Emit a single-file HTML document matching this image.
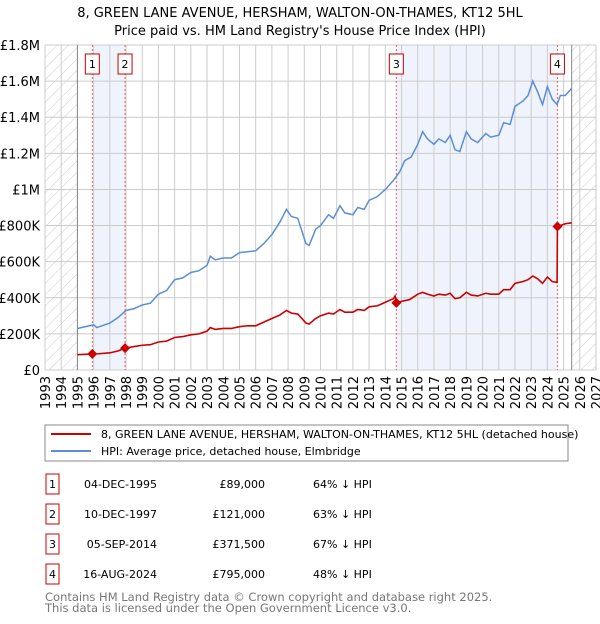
<!DOCTYPE html>
<html><head><meta charset="utf-8"><style>
body{margin:0;background:#fff;font-family:"DejaVu Sans","Liberation Sans",sans-serif;}
svg text{font-family:"DejaVu Sans","Liberation Sans",sans-serif;}
</style></head><body>
<svg id="c" width="600" height="620" xmlns="http://www.w3.org/2000/svg">
<defs><pattern id="hatch" width="8" height="8" patternUnits="userSpaceOnUse" patternTransform="rotate(45)"><line x1="0" y1="0" x2="0" y2="8" stroke="#ccc" stroke-width="1"/></pattern></defs>
<text x="300" y="17" text-anchor="middle" font-size="13">8, GREEN LANE AVENUE, HERSHAM, WALTON-ON-THAMES, KT12 5HL</text>
<text x="300" y="35" text-anchor="middle" font-size="13">Price paid vs. HM Land Registry's House Price Index (HPI)</text>
<g id="plot"></g>
<rect x="45" y="425" width="523" height="36" fill="#fff" stroke="#888"/>
<line x1="51" y1="434" x2="91" y2="434" stroke="#cc0000" stroke-width="2"/>
<text x="101" y="438" font-size="11">8, GREEN LANE AVENUE, HERSHAM, WALTON-ON-THAMES, KT12 5HL (detached house)</text>
<line x1="51" y1="451" x2="91" y2="451" stroke="#5b8ed6" stroke-width="2"/>
<text x="101" y="455" font-size="11">HPI: Average price, detached house, Elmbridge</text>
<g id="table" font-size="11"></g>
<text x="45" y="601" font-size="11.5" fill="#777">Contains HM Land Registry data © Crown copyright and database right 2025.</text>
<text x="45" y="612" font-size="11.5" fill="#777">This data is licensed under the Open Government Licence v3.0.</text>
</svg>
<script>
const hpiT=[1995.0,1995.5,1996.0,1996.2,1997.0,1997.5,1998.0,1998.5,1999.0,1999.5,2000.0,2000.5,2001.0,2001.5,2002.0,2002.5,2003.0,2003.2,2003.5,2004.0,2004.5,2005.0,2005.5,2006.0,2006.5,2007.0,2007.5,2007.9,2008.2,2008.6,2009.1,2009.3,2009.7,2010.0,2010.5,2010.8,2011.2,2011.5,2012.0,2012.3,2012.7,2013.0,2013.5,2014.0,2014.5,2014.9,2015.2,2015.6,2016.0,2016.3,2016.6,2017.0,2017.3,2017.7,2018.0,2018.3,2018.6,2019.0,2019.3,2019.7,2020.2,2020.5,2021.0,2021.3,2021.7,2022.0,2022.5,2022.8,2023.1,2023.4,2023.7,2024.0,2024.3,2024.6,2024.8,2025.1,2025.5];
const hpiV=[230,240,250,235,260,290,330,340,360,370,420,440,500,510,540,550,580,630,610,620,620,650,655,660,700,750,820,890,850,840,700,690,780,800,860,840,910,870,860,900,890,940,960,1000,1050,1100,1160,1180,1250,1320,1280,1250,1280,1260,1300,1220,1210,1320,1280,1260,1310,1290,1300,1370,1360,1460,1490,1520,1600,1540,1470,1570,1500,1470,1520,1520,1560];
const priceT=[1995.0,1995.5,1995.92,1996.3,1997.0,1997.5,1997.94,1998.5,1999.0,1999.5,2000.0,2000.5,2001.0,2001.5,2002.0,2002.5,2003.0,2003.2,2003.5,2004.0,2004.5,2005.0,2005.5,2006.0,2006.5,2007.0,2007.5,2007.9,2008.2,2008.6,2009.1,2009.3,2009.7,2010.0,2010.5,2010.8,2011.2,2011.5,2012.0,2012.3,2012.7,2013.0,2013.5,2014.0,2014.5,2014.6,2014.68,2015.0,2015.5,2016.0,2016.3,2016.6,2017.0,2017.3,2017.7,2018.0,2018.3,2018.6,2019.0,2019.3,2019.7,2020.2,2020.5,2021.0,2021.3,2021.7,2022.0,2022.5,2022.8,2023.1,2023.4,2023.7,2024.0,2024.3,2024.6,2024.62,2024.8,2025.1,2025.5];
const priceV=[85,87,89,90,95,105,121,130,137,140,155,160,180,185,195,200,215,235,225,230,230,240,245,245,265,285,305,330,315,310,260,255,285,300,315,310,335,320,320,335,330,350,355,375,395,410,371.5,380,390,420,430,420,410,420,415,425,395,400,430,415,410,425,420,420,445,445,480,490,500,520,505,480,515,490,485,795,800,810,815];
const saleT=[1995.92,1997.94,2014.68,2024.62];
const saleV=[89,121,371.5,795];
const saleLabels=["1","2","3","4"];
const saleDates=["04-DEC-1995","10-DEC-1997","05-SEP-2014","16-AUG-2024"];
const salePrices=["£89,000","£121,000","£371,500","£795,000"];
const saleDiffs=["64% ↓ HPI","63% ↓ HPI","67% ↓ HPI","48% ↓ HPI"];
const yTicks=[0,200,400,600,800,1000,1200,1400,1600,1800];
const yTickLabels=["£0","£200K","£400K","£600K","£800K","£1M","£1.2M","£1.4M","£1.6M","£1.8M"];
const years=[];for(let y=1993;y<=2027;y++)years.push(y);

const L=45,R=596,T=45,B=370,X0=1993,X1=2027,YMAX=1800;
const x=t=>L+(t-X0)/(X1-X0)*(R-L);
const y=v=>B-v/YMAX*(B-T);
const NS="http://www.w3.org/2000/svg";
const g=document.getElementById('plot');
function mk(tag,attrs,parent){const e=document.createElementNS(NS,tag);for(const k in attrs)e.setAttribute(k,attrs[k]);(parent||g).appendChild(e);return e;}
let e;
e=mk('rect',{x:L,y:T,width:R-L,height:B-T,fill:'#fff'});


e=mk('rect',{x:L,y:T,width:x(1995)-L,height:B-T,fill:'url(#hatch)'});


e=mk('rect',{x:x(2025.5),y:T,width:R-x(2025.5),height:B-T,fill:'url(#hatch)'});


e=mk('rect',{x:x(saleT[0]),y:T,width:x(saleT[1])-x(saleT[0]),height:B-T,fill:'#eef3fc'});


e=mk('rect',{x:x(saleT[2]),y:T,width:x(saleT[3])-x(saleT[2]),height:B-T,fill:'#eef3fc'});


years.forEach(yr=>{
  e=mk('line',{x1:x(yr),x2:x(yr),y1:T,y2:B,stroke:'#ccc','stroke-width':1});
  
  
  e=mk('text',{x:0,y:0,'font-size':13,'text-anchor':'end',transform:`translate(${x(yr)+5},${B+6}) rotate(-90)`});
  e.textContent=yr;
  
  
});
yTicks.forEach((v,i)=>{
  e=mk('line',{x1:L,x2:R,y1:y(v),y2:y(v),stroke:'#ccc','stroke-width':1});
  
  
  e=mk('text',{x:L-5,y:y(v)+5,'font-size':13,'text-anchor':'end'});
  e.textContent=yTickLabels[i];
  
  
});
[1995,2025.5].forEach(t=>{
  e=mk('line',{x1:x(t),x2:x(t),y1:T,y2:B,stroke:'#888','stroke-width':1});
  
  
});
saleT.forEach((t,i)=>{
  e=mk('line',{x1:x(t),x2:x(t),y1:T,y2:B,stroke:'#f06060','stroke-width':1,'stroke-dasharray':'2,2'});
  
  
  e=mk('rect',{x:x(t)-7,y:54,width:14,height:20,fill:'#fff',stroke:'#cc0000'});
  
  
  e=mk('text',{x:x(t),y:68,'font-size':11,'text-anchor':'middle'});
  e.textContent=saleLabels[i];
  
  
});
e=mk('polyline',{points:hpiT.map((t,i)=>x(t)+','+y(hpiV[i])).join(' '),fill:'none',stroke:'#5b8ed6','stroke-width':1.5});


e=mk('polyline',{points:priceT.map((t,i)=>x(t)+','+y(priceV[i])).join(' '),fill:'none',stroke:'#cc0000','stroke-width':1.6});


saleT.forEach((t,i)=>{
  const cx=x(t),cy=y(saleV[i]);
  e=mk('polygon',{points:`${cx},${cy-5} ${cx+5},${cy} ${cx},${cy+5} ${cx-5},${cy}`,fill:'#cc0000'});
  
  
});
const tb=document.getElementById('table');
saleLabels.forEach((s,i)=>{
  const cy=484+i*30;
  e=mk('rect',{x:46,y:cy-10,width:13,height:20,fill:'#fff',stroke:'#cc0000'},tb);
  
  
  e=mk('text',{x:52.5,y:cy+4,'text-anchor':'middle'},tb);e.textContent=s;
  
  
  e=mk('text',{x:157,y:cy+4,'text-anchor':'end'},tb);e.textContent=saleDates[i];
  
  
  e=mk('text',{x:265,y:cy+4,'text-anchor':'end'},tb);e.textContent=salePrices[i];
  
  
  e=mk('text',{x:313,y:cy+4},tb);e.textContent=saleDiffs[i];
  
  
});
</script>
</body></html>
